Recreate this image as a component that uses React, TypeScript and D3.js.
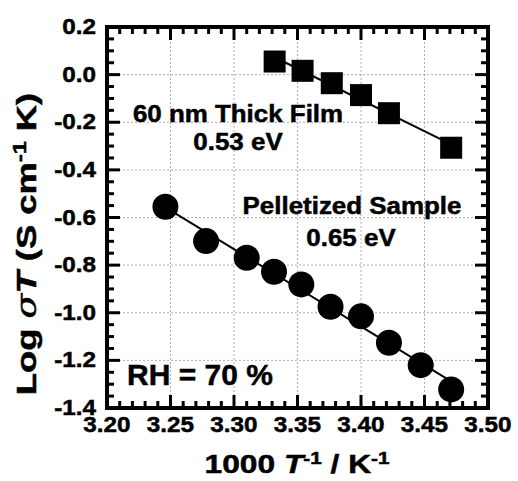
import * as d3 from "d3";
import React from "react";

// thick film (squares)
const filmX = [3.332, 3.354, 3.377, 3.4, 3.422, 3.471];
const filmY = [0.055, 0.016, -0.036, -0.086, -0.162, -0.307];

// pelletized sample (circles)
const pelletX = [3.246, 3.278, 3.31, 3.3315, 3.353, 3.376, 3.4, 3.422, 3.447, 3.471];
const pelletY = [-0.555, -0.699, -0.769, -0.828, -0.881, -0.975, -1.015, -1.126, -1.22, -1.322];

const xTicks = [3.2, 3.25, 3.3, 3.35, 3.4, 3.45, 3.5];
const yTicks = [0.2, 0.0, -0.2, -0.4, -0.6, -0.8, -1.0, -1.2, -1.4];

const font = "Arial, 'Liberation Sans', sans-serif";
const stretch = 1.08;

function fit(xs: number[], ys: number[]) {
    const mx = d3.mean(xs)!;
    const my = d3.mean(ys)!;
    const num = d3.sum(xs, (x, i) => (x - mx) * (ys[i] - my));
    const den = d3.sum(xs, (x) => (x - mx) ** 2);
    const b = num / den;
    const a = my - b * mx;
    const x0 = d3.min(xs)!;
    const x1 = d3.max(xs)!;
    return [{ x: x0, y: a + b * x0 }, { x: x1, y: a + b * x1 }];
}

// bold text, slightly widened like the original figure
function Label({ x, y, size, anchor = "start", rotate = 0, sx = stretch, children }: any) {
    return (
        <g transform={`translate(${x},${y}) rotate(${rotate}) scale(${sx},1)`}>
            <text fontFamily={font} fontWeight="bold" fontSize={size} textAnchor={anchor}
                fill="black" stroke="black" strokeWidth={0.5}>
                {children}
            </text>
        </g>
    );
}

export default function App() {
    const width = 518;
    const height = 481;
    const margin = { left: 107, right: 30, top: 27, bottom: 73 };

    const xScale = d3.scaleLinear().domain([3.2, 3.5]).range([margin.left, width - margin.right]);
    const yScale = d3.scaleLinear().domain([-1.4, 0.2]).range([height - margin.bottom, margin.top]);

    const [x0, x1] = xScale.range();
    const [y0, y1] = yScale.range(); // y0 bottom, y1 top

    const xMinor = d3.range(3.2, 3.5001, 0.01).filter((v) => !xTicks.some((t) => Math.abs(t - v) < 1e-6));
    const yMinor = d3.range(-1.4, 0.2001, 0.05).filter((v) => !yTicks.some((t) => Math.abs(t - v) < 1e-6));

    const line = d3.line<{ x: number; y: number }>()
        .x((d) => xScale(d.x))
        .y((d) => yScale(d.y));

    const filmFit = fit(filmX, filmY);
    const pelletFit = fit(pelletX, pelletY);

    const majorLen = 13;
    const minorLen = 7;
    const sq = 22;

    return (
        <svg width={width} height={height} style={{ position: "absolute", left: 0, top: 0 }}>
            <rect width={width} height={height} fill="white" />

            {/* grid */}
            {xTicks.slice(1, -1).map((t) => (
                <line key={"gx" + t} x1={xScale(t)} x2={xScale(t)} y1={y0} y2={y1}
                    stroke="#999" strokeWidth={0.8} strokeDasharray="2,2" />
            ))}
            {yTicks.slice(1, -1).map((t) => (
                <line key={"gy" + t} x1={x0} x2={x1} y1={yScale(t)} y2={yScale(t)}
                    stroke="#999" strokeWidth={0.8} strokeDasharray="2,2" />
            ))}

            {/* ticks, all four sides */}
            {xTicks.map((t) => (
                <g key={"tx" + t} stroke="black" strokeWidth={3}>
                    <line x1={xScale(t)} x2={xScale(t)} y1={y0} y2={y0 - majorLen} />
                    <line x1={xScale(t)} x2={xScale(t)} y1={y1} y2={y1 + majorLen} />
                </g>
            ))}
            {xMinor.map((t) => (
                <g key={"mx" + t} stroke="black" strokeWidth={3}>
                    <line x1={xScale(t)} x2={xScale(t)} y1={y0} y2={y0 - minorLen} />
                    <line x1={xScale(t)} x2={xScale(t)} y1={y1} y2={y1 + minorLen} />
                </g>
            ))}
            {yTicks.map((t) => (
                <g key={"ty" + t} stroke="black" strokeWidth={3}>
                    <line x1={x0} x2={x0 + majorLen} y1={yScale(t)} y2={yScale(t)} />
                    <line x1={x1} x2={x1 - majorLen} y1={yScale(t)} y2={yScale(t)} />
                </g>
            ))}
            {yMinor.map((t) => (
                <g key={"my" + t} stroke="black" strokeWidth={3}>
                    <line x1={x0} x2={x0 + minorLen} y1={yScale(t)} y2={yScale(t)} />
                    <line x1={x1} x2={x1 - minorLen} y1={yScale(t)} y2={yScale(t)} />
                </g>
            ))}

            {/* fit lines */}
            <path d={line(filmFit) || undefined} stroke="black" strokeWidth={2} fill="none" />
            <path d={line(pelletFit) || undefined} stroke="black" strokeWidth={2} fill="none" />

            {/* markers */}
            {filmX.map((x, i) => (
                <rect key={"s" + i} x={xScale(x) - sq / 2} y={yScale(filmY[i]) - sq / 2}
                    width={sq} height={sq} fill="black" />
            ))}
            {pelletX.map((x, i) => (
                <circle key={"c" + i} cx={xScale(x)} cy={yScale(pelletY[i])} r={13} fill="black" />
            ))}

            {/* frame */}
            <rect x={x0} y={y1} width={x1 - x0} height={y0 - y1} fill="none" stroke="black" strokeWidth={4} />

            {/* tick labels */}
            {xTicks.map((t) => (
                <Label key={"lx" + t} x={xScale(t)} y={y0 + 24} size={22.5} anchor="middle">{t.toFixed(2)}</Label>
            ))}
            {yTicks.map((t) => (
                <Label key={"ly" + t} x={x0 - 11} y={yScale(t) + 7} size={22.5} anchor="end">{t.toFixed(1)}</Label>
            ))}

            {/* annotations */}
            <Label x={238} y={122} size={24} anchor="middle">60 nm Thick Film</Label>
            <Label x={238} y={150} size={24} anchor="middle">0.53 eV</Label>
            <Label x={352} y={214} size={24} anchor="middle">Pelletized Sample</Label>
            <Label x={351} y={246} size={24} anchor="middle">0.65 eV</Label>
            <Label x={127} y={385} size={30} sx={1}>RH = 70 %</Label>

            {/* axis titles */}
            <Label x={297} y={473} size={26} anchor="middle" sx={1.22}>
                1000 <tspan fontStyle="italic">T</tspan>
                <tspan fontSize={17} dy={-9}>-1</tspan>
                <tspan dy={9}> / K</tspan>
                <tspan fontSize={17} dy={-9}>-1</tspan>
            </Label>
            <Label x={36} y={244} size={28} anchor="middle" rotate={-90} sx={1.3}>
                Log <tspan fontFamily="'DejaVu Serif', 'Liberation Serif', serif" fontStyle="italic" fontWeight="normal">σ</tspan>
                <tspan fontStyle="italic">T</tspan>  (S cm
                <tspan fontSize={18} dy={-10}>-1</tspan>
                <tspan dy={10}> K)</tspan>
            </Label>
        </svg>
    );
}
